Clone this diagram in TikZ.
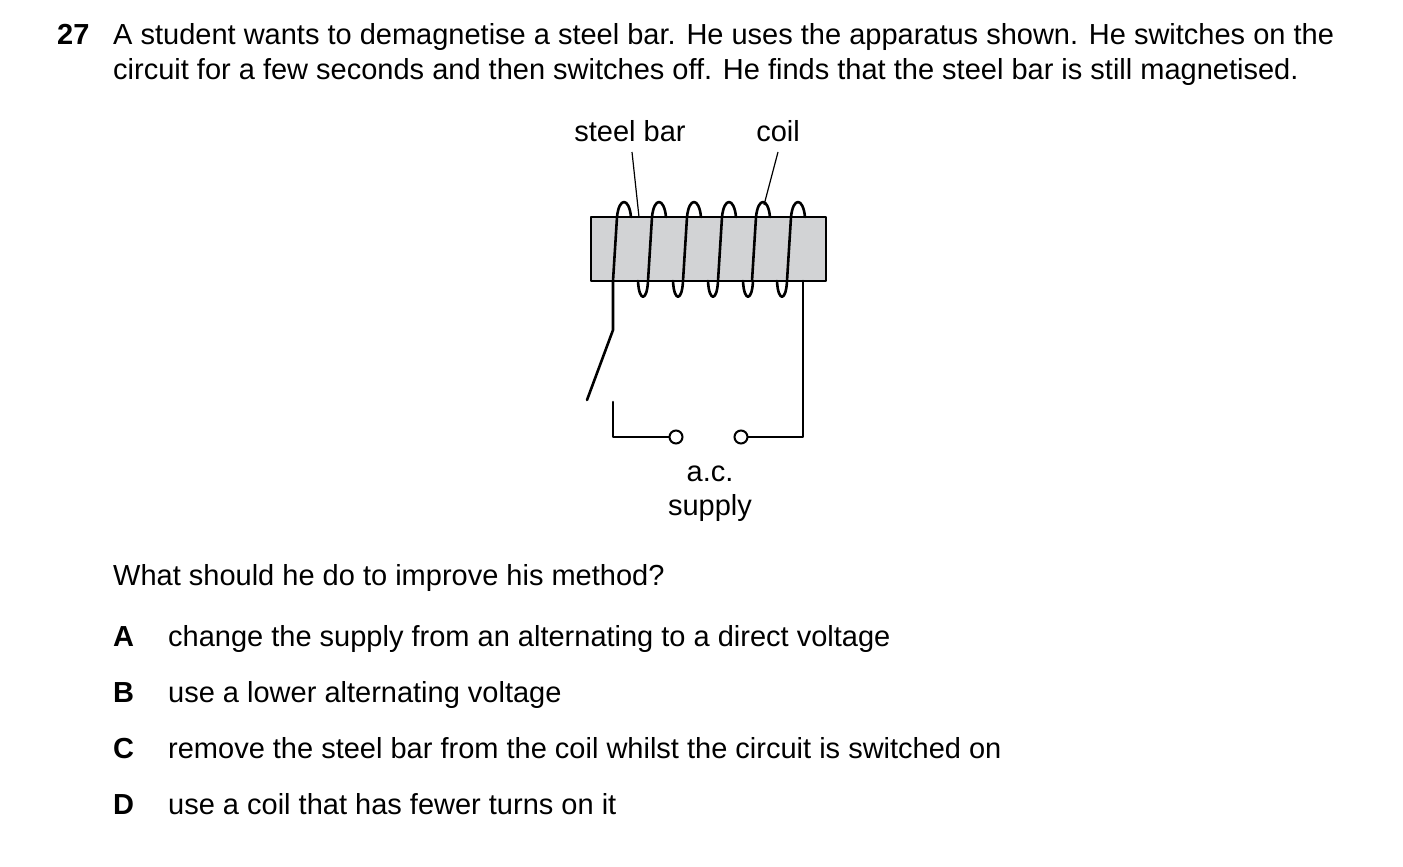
\documentclass[tikz,border=0pt]{standalone}
\usepackage{fontspec}
\setmainfont{Liberation Sans}
\begin{document}
\begin{tikzpicture}[x=1pt,y=-1pt,
  txt/.style={anchor=base west,inner sep=0pt,font=\fontsize{29}{34}\selectfont},
  bf/.style={txt,font=\fontsize{29}{34}\selectfont\bfseries},
  lab/.style={anchor=base,inner sep=0pt,font=\fontsize{29}{34}\selectfont},
  wire/.style={line width=2.6pt,line cap=round,line join=round},
  lead/.style={line width=1.2pt}]
\useasboundingbox (0,0) rectangle (1403,867);
\node[bf] (num) at (57,45) {27};
\node[txt] (l1) at (113,45) {A student wants to demagnetise a steel bar. He uses the apparatus shown. He switches on the};
\node[txt] (l2) at (113,79) {circuit for a few seconds and then switches off. He finds that the steel bar is still magnetised.};
% bar
\draw[wire,fill={rgb,255:red,210;green,211;blue,213}] (591,217) rectangle (826,281);
% coil turns
\foreach \x in {613,648,683,718,752,787}{
  \draw[wire] (\x,281) -- (\x+4,217);
  \draw[wire] (\x+4,217) .. controls (\x+6,197) and (\x+16,197) .. (\x+18,217);
}
\foreach \x in {613,648,683,718,752}{
  \draw[wire] (\x+25,281) .. controls (\x+26,302) and (\x+34,302) .. (\x+35,281);
}
% circuit
\coordinate (sw) at (613,330);
\coordinate (blade) at (587,400);
\node[draw,circle,line width=2pt,minimum size=13pt,inner sep=0pt] (t1) at (676,437) {};
\node[draw,circle,line width=2pt,minimum size=13pt,inner sep=0pt] (t2) at (741,437) {};
\draw[wire] (613,281) -- (sw) -- (blade);
\draw[wire] (613,402) -- (613,437) -- (t1.west);
\draw[wire] (t2.east) -- (803,437) -- (803,281);
% labels
\node[lab] (sb) at (630,141) {steel bar};
\node[lab] (cl) at (778,141) {coil};
\draw[lead] (632,152) -- (639,217);
\draw[lead] (778,152) -- (764,205);
\node[lab] (ac) at (710,481) {a.c.};
\node[lab] (sup) at (710,515) {supply};
\node[txt] (q) at (113,585) {What should he do to improve his method?};
\node[bf] (A) at (113,646) {A};
\node[txt] (a) at (168,646) {change the supply from an alternating to a direct voltage};
\node[bf] (B) at (113,702) {B};
\node[txt] (b) at (168,702) {use a lower alternating voltage};
\node[bf] (C) at (113,758) {C};
\node[txt] (c) at (168,758) {remove the steel bar from the coil whilst the circuit is switched on};
\node[bf] (D) at (113,814) {D};
\node[txt] (d) at (168,814) {use a coil that has fewer turns on it};
\end{tikzpicture}
\end{document}
